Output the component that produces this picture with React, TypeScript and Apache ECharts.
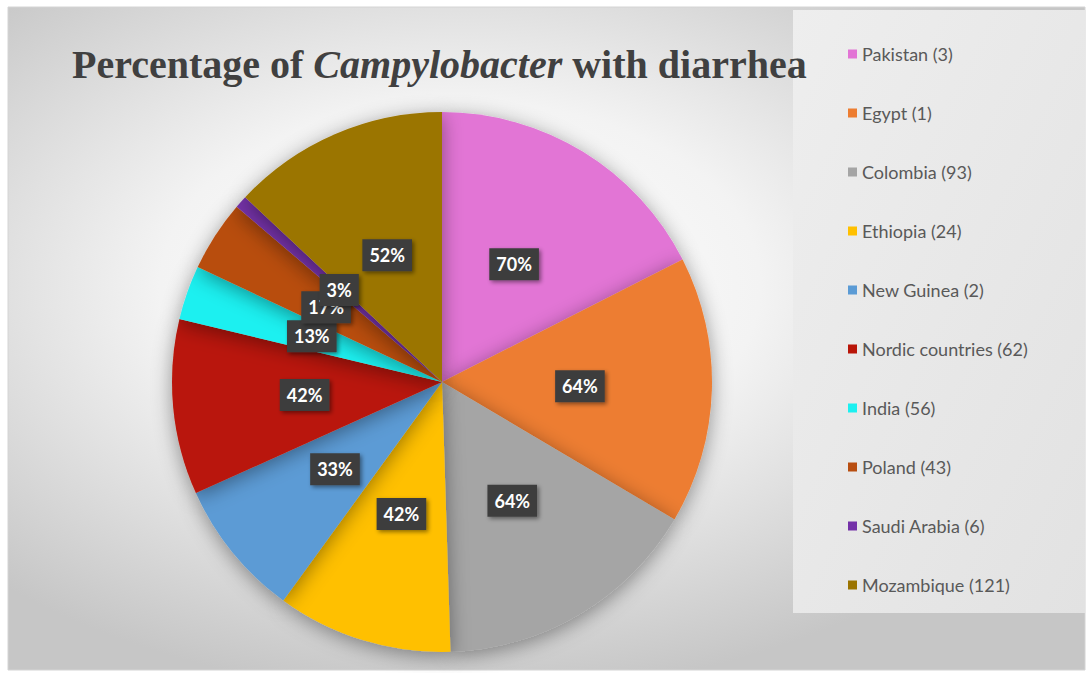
import React, { useEffect, useRef } from "react";
import * as echarts from "echarts";

const countries = [
  "Pakistan",
  "Egypt",
  "Colombia",
  "Ethiopia",
  "New Guinea",
  "Nordic countries",
  "India",
  "Poland",
  "Saudi Arabia",
  "Mozambique",
];
const studyCounts = [3, 1, 93, 24, 2, 62, 56, 43, 6, 121];
const percentages = [70, 64, 64, 42, 33, 42, 13, 17, 3, 52];
const sliceColors = [
  "#e274d5",
  "#ed7d31",
  "#a5a5a5",
  "#ffc000",
  "#5b9bd5",
  "#b91508",
  "#1cf0f0",
  "#b84e10",
  "#7431a8",
  "#9b7400",
];

export default function App() {
  const ref = useRef<HTMLDivElement>(null);

  useEffect(() => {
    if (!ref.current) return;
    const chart = echarts.init(ref.current, undefined, { renderer: "svg" });
    const names = countries.map((c, i) => `${c} (${studyCounts[i]})`);
    const data = names.map((n, i) => ({
      name: n,
      value: percentages[i],
      itemStyle: { color: sliceColors[i] },
    }));

    chart.setOption({
      animation: false,
      backgroundColor: "#ffffff",
      graphic: [
        {
          type: "rect",
          z: -10,
          shape: { x: 8, y: 7, width: 1077, height: 663 },
          style: {
            fill: {
              type: "radial",
              x: 0.42,
              y: 0.42,
              r: 0.62,
              colorStops: [
                { offset: 0, color: "#ffffff" },
                { offset: 0.45, color: "#f3f3f3" },
                { offset: 1, color: "#c6c6c6" },
              ],
            },
            stroke: "#d4d4d4",
            lineWidth: 1,
          },
        },
        {
          type: "rect",
          z: -9,
          shape: { x: 793, y: 10, width: 292, height: 603 },
          style: {
            fill: {
              type: "linear",
              x: 0,
              y: 0,
              x2: 1,
              y2: 1,
              colorStops: [
                { offset: 0, color: "#eeeeee" },
                { offset: 1, color: "#e2e2e2" },
              ],
            },
          },
        },
      ],
      title: {
        text: "{a|Percentage of }{b|Campylobacter}{a| with diarrhea}",
        left: 72,
        top: 42,
        padding: 0,
        textStyle: {
          rich: {
            a: {
              fontFamily: "Liberation Serif",
              fontWeight: "bold",
              fontSize: 40,
              lineHeight: 44,
              color: "#404040",
            },
            b: {
              fontFamily: "Liberation Serif",
              fontWeight: "bold",
              fontStyle: "italic",
              fontSize: 40,
              lineHeight: 44,
              color: "#404040",
            },
          },
        },
      },
      legend: {
        orient: "vertical",
        left: 848,
        top: 45,
        padding: 0,
        itemWidth: 9,
        itemHeight: 9,
        itemGap: 41,
        icon: "rect",
        data: names,
        textStyle: {
          fontFamily: "Lato",
          fontSize: 18,
          lineHeight: 18,
          color: "#595959",
        },
      },
      series: [
        {
          type: "pie",
          center: [442, 382],
          radius: 270,
          startAngle: 90,
          clockwise: true,
          data,
          itemStyle: {
            shadowBlur: 20,
            shadowColor: "rgba(0,0,0,0.4)",
            shadowOffsetY: 4,
          },
          labelLayout: { hideOverlap: false },
          label: {
            show: true,
            position: "inside",
            formatter: "{c}%",
            color: "#ffffff",
            fontFamily: "Lato",
            fontWeight: "bold",
            fontSize: 18,
            lineHeight: 18,
            backgroundColor: "#3d3d3d",
            padding: [7, 7],
            shadowBlur: 4,
            shadowOffsetX: 2,
            shadowOffsetY: 2,
            shadowColor: "rgba(0,0,0,0.45)",
          },
          labelLine: { show: false },
          emphasis: { disabled: true },
        },
      ],
    });

    return () => chart.dispose();
  }, []);

  return (
    <div
      ref={ref}
      style={{ position: "fixed", left: 0, top: 0, width: 1088, height: 673 }}
    />
  );
}
